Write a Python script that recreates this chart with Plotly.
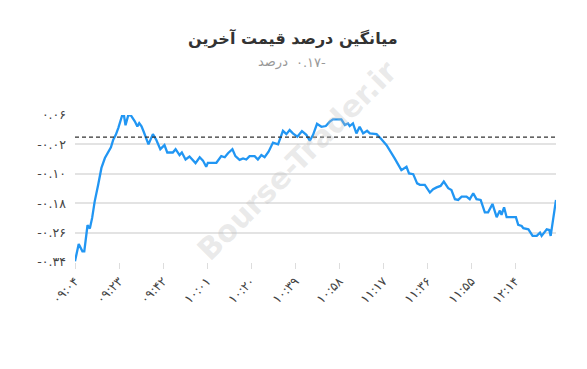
import plotly.graph_objects as go

# minutes elapsed since 09:04
minutes = [0, 1.6, 3.2, 4.0, 5.4, 6.4, 7.4, 8.5, 10.0, 11.4, 12.9, 14.3, 15.5, 16.5, 17.6, 18.7,
           19.6, 20.4, 21.1, 21.8, 23.0, 24.1, 25.8, 26.9, 27.7, 28.7, 29.6, 31.7, 33.6, 35.1,
           36.8, 38.6, 39.8, 42.2, 43.4, 45.1, 46.1, 47.7, 49.4, 52.0, 53.8, 55.2, 56.6, 57.3,
           61.0, 63.1, 64.6, 66.0, 67.9, 69.2, 71.0, 72.5, 73.9, 75.3, 77.5, 78.9, 80.4, 81.8,
           83.5, 85.4, 87.6, 89.7, 91.2, 92.6, 94.0, 95.9, 97.9, 99.8, 101.3, 102.7, 104.4,
           106.3, 108.2, 109.9, 111.3, 114.9, 116.4, 117.8, 118.5, 119.9, 121.4, 122.8, 124.3,
           126.0, 127.2, 130.1, 132.2, 134.4, 137.9, 140.8, 143.0, 144.1, 145.9, 147.6, 148.8,
           150.9, 153.1, 154.5, 156.0, 157.7, 159.1, 161.0, 162.4, 163.9, 165.3, 166.8, 168.9,
           170.3, 171.8, 173.2, 175.0, 176.8, 178.2, 180.1, 181.9, 183.3, 184.0, 185.1, 186.2,
           190.2, 191.2, 192.7, 193.4, 195.6, 197.4, 199.2, 200.6, 201.3, 203.5, 204.6, 205.2,
           207.5]
avg_change = [-0.338, -0.291, -0.311, -0.311, -0.240, -0.249, -0.220, -0.175, -0.130, -0.084,
              -0.057, -0.039, -0.028, -0.007, 0.006, 0.025, 0.047, 0.060, 0.060, 0.032, 0.060,
              0.059, 0.043, 0.029, 0.038, 0.029, 0.015, -0.020, 0.008, -0.008, -0.033, -0.022,
              -0.042, -0.042, -0.033, -0.049, -0.042, -0.061, -0.053, -0.071, -0.055, -0.064,
              -0.081, -0.070, -0.070, -0.052, -0.055, -0.044, -0.033, -0.052, -0.062, -0.058,
              -0.061, -0.052, -0.052, -0.061, -0.049, -0.055, -0.040, -0.015, -0.020, 0.017,
              0.008, 0.019, 0.010, 0.001, 0.016, 0.006, -0.010, 0.006, 0.036, 0.028, 0.030,
              0.042, 0.048, 0.048, 0.033, 0.037, 0.030, 0.037, 0.010, 0.028, 0.010, 0.017,
              0.010, 0.008, -0.006, -0.022, -0.058, -0.090, -0.081, -0.099, -0.101, -0.126,
              -0.130, -0.130, -0.151, -0.142, -0.137, -0.133, -0.121, -0.139, -0.144, -0.169,
              -0.171, -0.162, -0.162, -0.169, -0.153, -0.169, -0.171, -0.205, -0.205, -0.182,
              -0.218, -0.200, -0.212, -0.191, -0.218, -0.218, -0.239, -0.242, -0.248, -0.251,
              -0.269, -0.269, -0.260, -0.269, -0.251, -0.253, -0.269, -0.171]

x_tick_minutes = [0, 19, 38, 57, 76, 95, 114, 133, 152, 171, 190]
x_tick_labels = ["09:04", "09:23", "09:42", "10:01", "10:20", "10:39", "10:58",
                 "11:17", "11:36", "11:55", "12:14"]
y_tick_values = [0.06, -0.02, -0.10, -0.18, -0.26, -0.34]
reference_value = 0.0
last_value = -0.17

title_text = "میانگین درصد قیمت آخرین"
unit_text = "درصد"
watermark_text = "Bourse-Trader.ir"

FA = str.maketrans("0123456789", "۰۱۲۳۴۵۶۷۸۹")


def fa(s):
    return s.translate(FA)


def fa_num(v):
    s = f"{abs(v):.2f}".translate(FA)
    return ("-" + s) if v < 0 else s


FONT = "DejaVu Sans"
L, T, PW, PH = 75.5, 115, 480.5, 147   # plot-area geometry in page pixels


def px_x(x):
    return (x - L) / PW


def px_y(y):
    return 1 + (T - y) / PH


fig = go.Figure()
fig.add_trace(go.Scatter(
    x=minutes, y=avg_change, mode="lines",
    line=dict(color="#2196f3", width=2.3),
    hoverinfo="skip", showlegend=False,
))

fig.add_shape(type="line", xref="paper", yref="y", x0=0, x1=1,
              y0=reference_value, y1=reference_value,
              line=dict(color="#333333", width=1.3, dash="4px,3px"))

# subtitle as shown right-to-left: unit on the left, number with trailing minus on the right
LRM = "\u200e"
num_text = LRM + f"{abs(last_value):.2f}".translate(FA) + ("-" if last_value < 0 else "") + LRM

fig.add_annotation(text="<b>" + title_text + "</b>", xref="paper", yref="paper",
                   x=px_x(293), y=px_y(38), xanchor="center", yanchor="middle",
                   showarrow=False,
                   font=dict(size=16, color="#333333", family=FONT))
fig.add_annotation(text=unit_text, xref="paper", yref="paper",
                   x=px_x(290), y=px_y(62), xanchor="right", yanchor="middle",
                   showarrow=False,
                   font=dict(size=13, color="#999999", family=FONT))
fig.add_annotation(text=num_text, xref="paper", yref="paper",
                   x=px_x(294), y=px_y(62), xanchor="left", yanchor="middle",
                   showarrow=False,
                   font=dict(size=13, color="#999999", family=FONT))
fig.add_annotation(text="<b>" + watermark_text + "</b>", xref="paper", yref="paper",
                   x=px_x(297), y=px_y(160), xanchor="center", yanchor="middle",
                   showarrow=False, textangle=-45,
                   font=dict(size=30, color="rgba(190,190,190,0.33)", family=FONT))

fig.update_layout(
    width=587, height=369,
    margin=dict(l=75, r=31, t=115, b=107),
    paper_bgcolor="white", plot_bgcolor="white",
    font=dict(family=FONT, color="#555555", size=11),
    xaxis=dict(
        range=[0, 207.5], tickmode="array", tickvals=x_tick_minutes,
        ticktext=[fa(t) for t in x_tick_labels], tickangle=-45,
        showgrid=False, zeroline=False, showline=False,
        ticks="outside", ticklen=6, tickcolor="#dddddd",
        tickfont=dict(size=12.5, color="#444444"),
    ),
    yaxis=dict(
        range=[-0.34, 0.06], tickmode="array", tickvals=y_tick_values,
        ticktext=[fa_num(v) for v in y_tick_values],
        showgrid=True, gridcolor="#e3e3e3", gridwidth=1.5, zeroline=False,
        showline=False, ticks="", ticklabelstandoff=8,
        tickfont=dict(size=12.5, color="#444444"),
    ),
)

fig.write_html("out.html", config={"displayModeBar": False},
               post_script="document.body.style.margin='0';")
